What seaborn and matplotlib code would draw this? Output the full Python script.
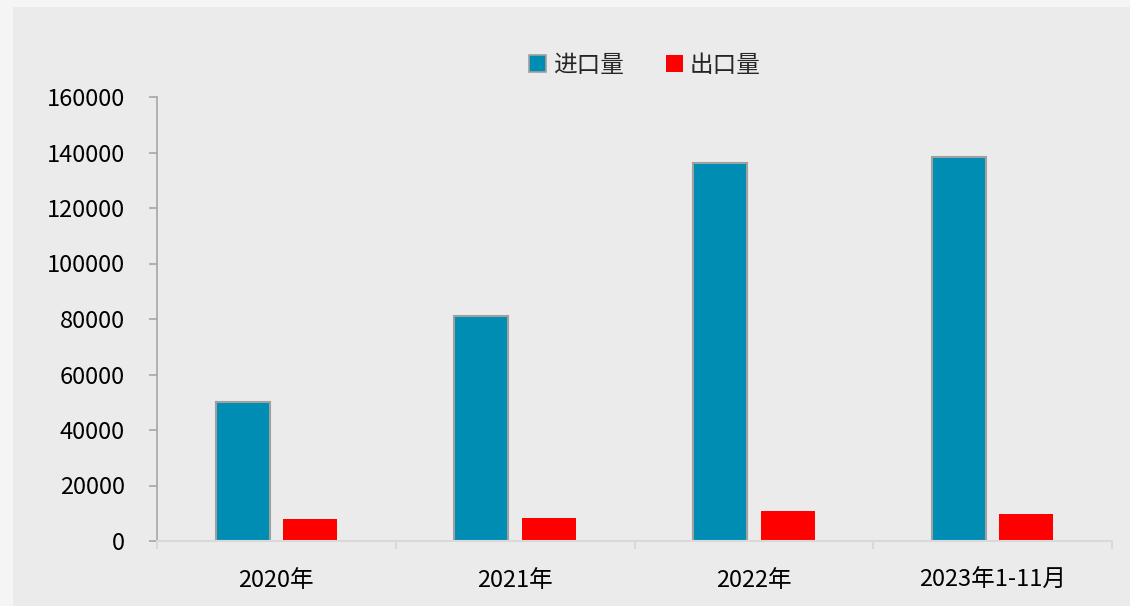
import matplotlib
matplotlib.use("Agg")
import matplotlib.pyplot as plt
import matplotlib.patches as mpatches
from matplotlib.ticker import FixedLocator
import seaborn as sns
import pandas as pd

categories = ["2020年", "2021年", "2022年", "2023年1-11月"]
import_vals = [50000, 81000, 136200, 138400]
export_vals = [7900, 8300, 10800, 9700]
series_names = ["进口量", "出口量"]
yticks = [0, 20000, 40000, 60000, 80000, 100000, 120000, 140000, 160000]

df = pd.DataFrame({
    "cat": categories * 2,
    "series": [series_names[0]] * 4 + [series_names[1]] * 4,
    "val": import_vals + export_vals,
})

sns.set_style("white")
plt.rcParams["font.family"] = ["Noto Sans CJK SC", "DejaVu Sans"]

fig = plt.figure(figsize=(11.3, 6.06), dpi=100, facecolor="#f5f5f5")
bg = fig.add_axes([13 / 1130, 0, 1 - 13 / 1130, 1 - 7 / 606], zorder=-10)
bg.set_facecolor("#ebebeb")
bg.set_axis_off()
bg.add_patch(mpatches.Rectangle((0, 0), 1, 1, transform=bg.transAxes,
                                facecolor="#ebebeb", edgecolor="none"))

ax = fig.add_axes([157 / 1130, 1 - 541 / 606, (1112 - 157) / 1130, (541 - 97) / 606])
ax.set_facecolor("none")

blue = "#008db4"
red = "#ff0000"
sns.barplot(data=df, x="cat", y="val", hue="series", palette=[blue, red],
            width=0.565, gap=0.197, ax=ax, legend=False, saturation=1)

for p in ax.patches:
    fc = p.get_facecolor()
    if fc[0] < 0.5:
        p.set_edgecolor("#a0a0a0")
        p.set_linewidth(1.5)
    else:
        p.set_edgecolor("none")

ax.set_xlim(-0.5, 3.5)
ax.set_ylim(0, 160000)
ax.set_yticks(yticks)
ax.set_yticklabels([str(v) for v in yticks])
ax.set_xlabel("")
ax.set_ylabel("")

for s in ["top", "right"]:
    ax.spines[s].set_visible(False)
ax.spines["left"].set_color("#a6a6a6")
ax.spines["left"].set_linewidth(1.2)
ax.spines["bottom"].set_color("#d9d9d9")
ax.spines["bottom"].set_linewidth(1.5)

ax.tick_params(axis="y", which="major", length=6, width=1.2, color="#a6a6a6",
               pad=17, labelsize=17, labelcolor="black", left=True)
ax.tick_params(axis="x", which="major", length=0, pad=20, labelsize=17, labelcolor="black")
ax.xaxis.set_minor_locator(FixedLocator([-0.5, 0.5, 1.5, 2.5, 3.5]))
ax.tick_params(axis="x", which="minor", length=6, width=1.5, color="#d9d9d9", bottom=True)

handles = [mpatches.Patch(facecolor=blue, edgecolor="#a0a0a0", linewidth=1.2, label=series_names[0]),
           mpatches.Patch(facecolor=red, edgecolor="none", label=series_names[1])]
fig.legend(handles=handles, loc="center", bbox_to_anchor=(645 / 1130, 1 - 65 / 606), ncol=2,
           frameon=False, fontsize=17, handlelength=0.7, handleheight=0.7,
           handletextpad=0.3, columnspacing=1.8)

fig.savefig("out.png", dpi=100, facecolor=fig.get_facecolor())
